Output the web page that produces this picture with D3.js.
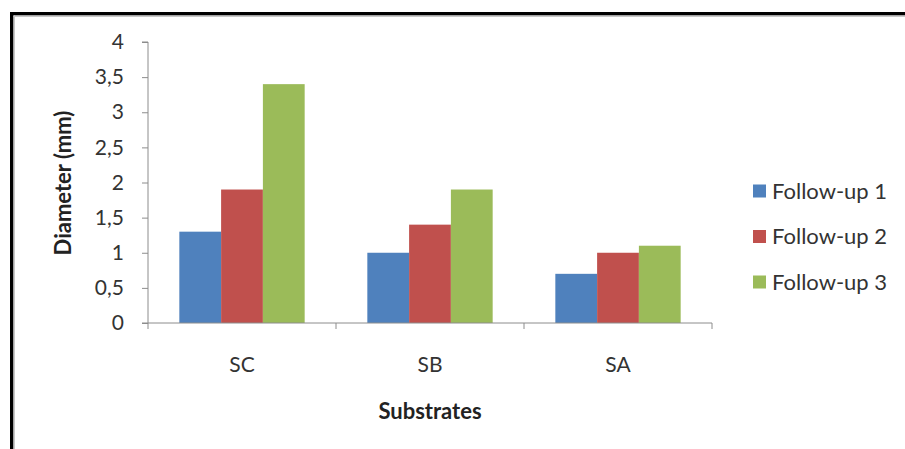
<!DOCTYPE html>
<html>
<head>
<meta charset="utf-8">
<script src="https://cdn.jsdelivr.net/npm/d3@7"></script>
<style>
  html, body { margin: 0; padding: 0; background: #fff; }
  svg { display: block; font-family: Lato, "Open Sans", sans-serif; }
</style>
</head>
<body>
<svg id="chart" width="905" height="449"></svg>
<script>
// Substrates and the three follow-up measurements (diameter in mm)
const categories = ["SC", "SB", "SA"];
const seriesNames = ["Follow-up 1", "Follow-up 2", "Follow-up 3"];
const followUp1 = [1.3, 1.0, 0.7];
const followUp2 = [1.9, 1.4, 1.0];
const followUp3 = [3.4, 1.9, 1.1];
const yTicks = [0, 0.5, 1, 1.5, 2, 2.5, 3, 3.5, 4];
const colors = ["#4F81BD", "#C0504D", "#9BBB59"];

const series = [followUp1, followUp2, followUp3];

const svg = d3.select("#chart");

// Frame: black rule on top and left, with a thin grey shade inside it
svg.append("rect").attr("x", 10).attr("y", 12).attr("width", 895).attr("height", 3.5).attr("fill", "#000");
svg.append("rect").attr("x", 10).attr("y", 12).attr("width", 3.5).attr("height", 437).attr("fill", "#000");
svg.append("rect").attr("x", 13.5).attr("y", 15.5).attr("width", 891.5).attr("height", 1.5).attr("fill", "#c8c8c8");
svg.append("rect").attr("x", 13.5).attr("y", 15.5).attr("width", 1.5).attr("height", 433.5).attr("fill", "#c8c8c8");

const plot = { left: 148, right: 712, top: 42, bottom: 323 };

const y = d3.scaleLinear().domain([0, 4]).range([plot.bottom, plot.top]);
const x0 = d3.scaleBand().domain(categories).range([plot.left, plot.right]).padding(0);

// Bars take 3 of 4.5 slots per category (gap width 150%)
const groupWidth = x0.bandwidth() * 3 / 4.5;
const x1 = d3.scaleBand().domain(seriesNames).range([0, groupWidth]).padding(0);

const axisColor = "#8c8c8c";
const textColor = "#333";
const labelSize = "21px";
const legendSize = "22px";
const titleSize = "22px";

// Bars
categories.forEach((cat, ci) => {
  const gx = x0(cat) + (x0.bandwidth() - groupWidth) / 2;
  seriesNames.forEach((name, si) => {
    const v = series[si][ci];
    svg.append("rect")
      .attr("x", gx + x1(name))
      .attr("y", y(v))
      .attr("width", x1.bandwidth())
      .attr("height", y(0) - y(v))
      .attr("fill", colors[si]);
  });
});

// Y axis
const yAxis = d3.axisLeft(y)
  .tickValues(yTicks)
  .tickSize(6)
  .tickPadding(18)
  .tickFormat(d => d3.format("")(d).replace(".", ","));
const gy = svg.append("g").attr("transform", `translate(${plot.left},0)`).call(yAxis);
gy.select(".domain").attr("stroke", axisColor).attr("d", `M-6,${plot.top}H0V${plot.bottom}`);
gy.selectAll(".tick line").attr("stroke", axisColor);
gy.selectAll(".tick text").attr("fill", textColor).style("font-size", labelSize).style("font-family", "Lato, sans-serif");

// X axis with ticks at category boundaries
const gx = svg.append("g").attr("transform", `translate(0,${plot.bottom})`);
gx.append("line").attr("x1", plot.left - 6).attr("x2", plot.right).attr("y1", 0).attr("y2", 0).attr("stroke", axisColor);
const boundaries = categories.map(c => x0(c)).concat([plot.right]);
gx.selectAll(".bt").data(boundaries.slice(1)).join("line")
  .attr("x1", d => d).attr("x2", d => d).attr("y1", 0).attr("y2", 6).attr("stroke", axisColor);
gx.append("line").attr("x1", plot.left).attr("x2", plot.left).attr("y1", 0).attr("y2", 6).attr("stroke", axisColor);
gx.selectAll(".cl").data(categories).join("text")
  .attr("x", d => x0(d) + x0.bandwidth() / 2)
  .attr("y", 49)
  .attr("text-anchor", "middle")
  .attr("fill", textColor)
  .style("font-size", labelSize)
  .text(d => d);

// Axis titles
svg.append("text")
  .attr("x", (plot.left + plot.right) / 2)
  .attr("y", 419)
  .attr("text-anchor", "middle")
  .attr("fill", "#222")
  .style("font-size", titleSize)
  .style("font-weight", "bold")
  .text("Substrates");

svg.append("text")
  .attr("transform", `translate(71,183) rotate(-90)`)
  .attr("text-anchor", "middle")
  .attr("fill", "#222")
  .style("font-size", titleSize)
  .style("font-weight", "bold")
  .text("Diameter (mm)");

// Legend
const legend = svg.append("g");
seriesNames.forEach((name, i) => {
  const cy = 191 + i * 45.5;
  legend.append("rect").attr("x", 753).attr("y", cy - 6.5).attr("width", 13).attr("height", 13).attr("fill", colors[i]);
  legend.append("text").attr("x", 772).attr("y", cy).attr("dy", "0.35em")
    .attr("fill", textColor).style("font-size", legendSize).text(name);
});
</script>
</body>
</html>
